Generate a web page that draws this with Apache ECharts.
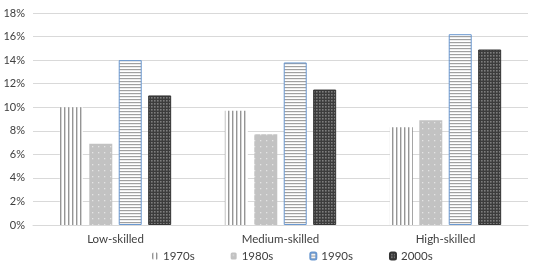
<!DOCTYPE html>
<html><head><meta charset="utf-8">
<script src="https://cdn.jsdelivr.net/npm/echarts@6/dist/echarts.min.js"></script>
<style>html,body{margin:0;padding:0;background:#fff}#c{width:554px;height:275px}</style>
</head><body><div id="c"></div>
<script>
const categories = ['Low-skilled', 'Medium-skilled', 'High-skilled'];
const seriesNames = ['1970s', '1980s', '1990s', '2000s'];
const v1970s = [10.0, 9.7, 8.3];
const v1980s = [6.9, 7.7, 8.9];
const v1990s = [14.0, 13.8, 16.2];
const v2000s = [11.0, 11.5, 14.9];
const yTicks = [0, 2, 4, 6, 8, 10, 12, 14, 16, 18];

function tile(w, h, draw) {
  const c = document.createElement('canvas');
  c.width = w; c.height = h;
  const g = c.getContext('2d');
  draw(g);
  return { image: c, repeat: 'repeat' };
}
const pVert = tile(4, 4, g => { g.fillStyle = '#fff'; g.fillRect(0,0,4,4); g.fillStyle = '#959595'; g.fillRect(0,0,1.4,4); });
const pDots = tile(6, 6, g => { g.fillStyle = '#c2c2c2'; g.fillRect(0,0,6,6); g.fillStyle = '#e4e4e4'; g.fillRect(2,2,1.3,1.3); });
const pHoriz = tile(4, 3.6, g => { g.fillStyle = '#fff'; g.fillRect(0,0,4,4); g.fillStyle = '#a0a0a0'; g.fillRect(0,0,4,1.2); });
const pCheck = tile(3, 3, g => { g.fillStyle = '#3c3c3c'; g.fillRect(0,0,3,3); g.fillStyle = '#7e7e7e'; g.fillRect(1,1,1.6,1.6); });

const font = 'Lato, "Liberation Sans", sans-serif';
const chart = echarts.init(document.getElementById('c'), null, { renderer: 'canvas' });
const base = { type: 'bar', barWidth: 23, barGap: '28%', animation: false };
chart.setOption({
  animation: false,
  grid: { left: 33, right: 26, top: 13, bottom: 50 },
  legend: {
    bottom: 8, left: 147, itemWidth: 6, itemHeight: 7, itemGap: 36,
    textStyle: { fontFamily: font, fontSize: 11.5, color: '#404040' },
    data: seriesNames
  },
  xAxis: {
    type: 'category', data: categories,
    axisLine: { lineStyle: { color: '#d9d9d9' } }, axisTick: { show: false },
    axisLabel: { fontFamily: font, fontSize: 11.5, color: '#404040', margin: 8 }
  },
  yAxis: {
    type: 'value', min: 0, max: 18, interval: 2,
    axisLine: { show: false }, axisTick: { show: false },
    splitLine: { lineStyle: { color: '#d9d9d9' } },
    axisLabel: { fontFamily: font, fontSize: 11, color: '#404040', margin: 8,
      formatter: v => yTicks.includes(v) ? v + '%' : '' }
  },
  series: [
    Object.assign({}, base, { name: seriesNames[0], data: v1970s, itemStyle: { color: pVert } }),
    Object.assign({}, base, { name: seriesNames[1], data: v1980s, itemStyle: { color: pDots } }),
    Object.assign({}, base, { name: seriesNames[2], data: v1990s, itemStyle: { color: pHoriz, borderColor: '#6a98d0', borderWidth: 1 } }),
    Object.assign({}, base, { name: seriesNames[3], data: v2000s, itemStyle: { color: pCheck, borderColor: '#333', borderWidth: 1 } })
  ]
});
</script></body></html>
